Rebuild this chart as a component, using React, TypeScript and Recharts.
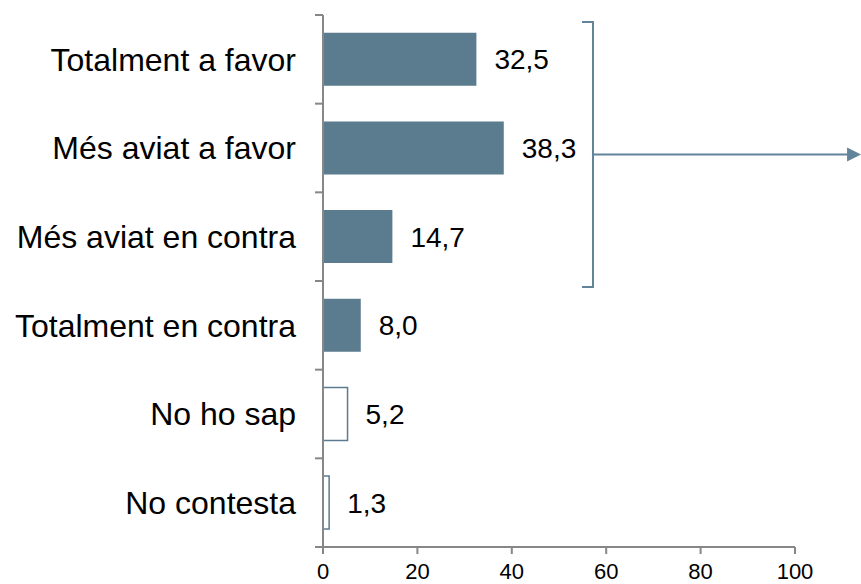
import React from 'react';
import { BarChart, Bar, XAxis, YAxis, Cell, LabelList, ReferenceDot } from 'recharts';

// respostes (%)
const categories = ['Totalment a favor', 'Més aviat a favor', 'Més aviat en contra', 'Totalment en contra', 'No ho sap', 'No contesta'];
const values = [32.5, 38.3, 14.7, 8.0, 5.2, 1.3];
const noAnswer = ['No ho sap', 'No contesta'];
const xTicks = [0, 20, 40, 60, 80, 100];

// claudàtor: agrupa les tres primeres respostes, centrat a la segona
const bracketCenter = 'Més aviat a favor';
const bracketX = 57.2;
const arrowEndX = 114;

const data = categories.map((name, i) => ({ name, value: values[i] }));

const W = 861;
const H = 584;
const M = { top: 15, right: 66, bottom: 0, left: 0 };
const Y_W = 323;
const X_H = 37;
const plotH = H - M.top - M.bottom - X_H;
const band = plotH / categories.length;
const pxPerUnit = (W - M.right - Y_W) / 100;

const BAR = '#5b7b8e';
const LINE = '#62849a';
const AXIS = '#878787';
const FONT = '"Liberation Sans", Arial, sans-serif';

const fmt = (v: number) => v.toFixed(1).replace('.', ',');

const CategoryTick = ({ x, y, payload, index }: any) => {
  const half = payload && payload.offset ? payload.offset : band / 2;
  const axisX = x + 27;
  const last = index === categories.length - 1;
  return (
    <g>
      <text x={x} y={y} dy="0.355em" textAnchor="end" fill="#000" fontSize={32} fontFamily={FONT}>
        {payload.value}
      </text>
      <line x1={axisX - 8} x2={axisX} y1={y - half} y2={y - half} stroke={AXIS} strokeWidth={2} />
      {last && <line x1={axisX - 8} x2={axisX} y1={y + half} y2={y + half} stroke={AXIS} strokeWidth={2} />}
    </g>
  );
};

const Bracket = ({ cx, cy }: any) => {
  const top = cy - 1.5 * band + 7;
  const bottom = cy + 1.5 * band + 6;
  const mid = cy + 6.5;
  const tip = cx + (arrowEndX - bracketX) * pxPerUnit;
  return (
    <g>
      <path
        d={`M${cx - 11},${top} L${cx},${top} L${cx},${bottom} L${cx - 11},${bottom} M${cx},${mid} L${tip - 12},${mid}`}
        fill="none"
        stroke={LINE}
        strokeWidth={2}
      />
      <polygon points={`${tip - 14},${mid - 7} ${tip},${mid} ${tip - 14},${mid + 7}`} fill={LINE} />
    </g>
  );
};

export default function App() {
  return (
    <div style={{ position: 'fixed', left: 0, top: 0, width: W, height: H, background: '#fff', fontFamily: FONT }}>
      <BarChart width={W} height={H} data={data} layout="vertical" barCategoryGap="20%" margin={M}>
        <YAxis
          type="category"
          dataKey="name"
          width={Y_W}
          axisLine={{ stroke: AXIS, strokeWidth: 2 }}
          tickLine={false}
          tickSize={0}
          tickMargin={27}
          tick={<CategoryTick />}
        />
        <XAxis
          type="number"
          domain={[0, 100]}
          ticks={xTicks}
          height={X_H}
          tickSize={7}
          tickMargin={9}
          axisLine={{ stroke: AXIS, strokeWidth: 2 }}
          tickLine={{ stroke: AXIS, strokeWidth: 2 }}
          tick={{ fill: '#000', fontSize: 22, fontFamily: FONT }}
        />
        <Bar dataKey="value" isAnimationActive={false}>
          {data.map((d) => (
            <Cell
              key={d.name}
              fill={noAnswer.includes(d.name) ? '#fff' : BAR}
              stroke={BAR}
              strokeWidth={noAnswer.includes(d.name) ? 1.5 : 0}
            />
          ))}
          <LabelList
            dataKey="value"
            position="right"
            offset={18}
            formatter={(v: any) => fmt(Number(v))}
            style={{ fill: '#000', fontSize: 28, fontFamily: FONT }}
          />
        </Bar>

        {/* claudàtor i fletxa */}
        <ReferenceDot x={bracketX} y={bracketCenter} ifOverflow="visible" shape={<Bracket />} />
      </BarChart>
    </div>
  );
}
